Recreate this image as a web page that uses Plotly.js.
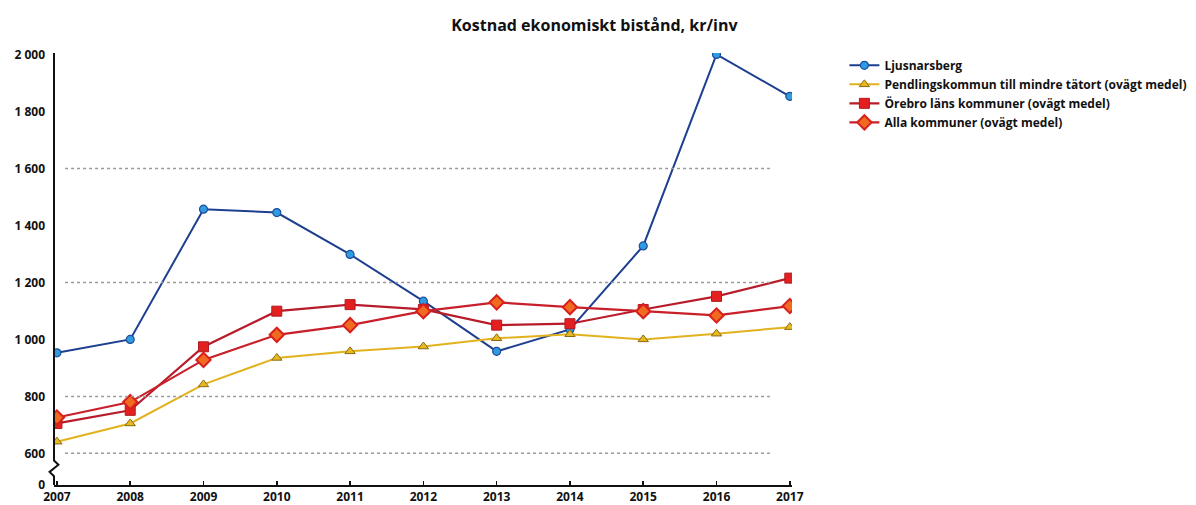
<!DOCTYPE html>
<html>
<head>
<meta charset="utf-8">
<script src="https://cdn.plot.ly/plotly-3.0.1.min.js"></script>
<style>html,body{margin:0;padding:0;background:#fff;}#chart{width:1196px;height:505px;}</style>
</head>
<body>
<div id="chart"></div>
<script>
const years = [2007, 2008, 2009, 2010, 2011, 2012, 2013, 2014, 2015, 2016, 2017];
const ljusnarsberg = [953, 1000, 1457, 1445, 1298, 1134, 958, 1035, 1328, 2000, 1853];
const pendling = [641, 705, 842, 935, 958, 975, 1004, 1018, 1000, 1020, 1043];
const orebro = [705, 751, 974, 1099, 1122, 1105, 1050, 1055, 1105, 1151, 1215];
const alla = [726, 780, 928, 1016, 1050, 1099, 1130, 1113, 1099, 1084, 1117];
const seriesNames = [
  "Ljusnarsberg",
  "Pendlingskommun till mindre tätort (ovägt medel)",
  "Örebro läns kommuner (ovägt medel)",
  "Alla kommuner (ovägt medel)"
];
const yTickVals = [489, 600, 800, 1000, 1200, 1400, 1600, 1800, 2000];
const yTickText = ["0", "600", "800", "1 000", "1 200", "1 400", "1 600", "1 800", "2 000"];
const gridVals = [600, 800, 1200, 1600];

const font = "'Open Sans', 'DejaVu Sans', sans-serif";

const traces = [
  {x: years, y: ljusnarsberg, name: seriesNames[0], mode: 'lines+markers', legendgroup: 'a',
   line: {color: '#1d3f8f', width: 2},
   marker: {symbol: 'circle', size: 8, color: '#2f9be0', line: {color: '#1d4f9c', width: 1.2}}},
  {x: years, y: pendling, name: seriesNames[1], mode: 'lines+markers', legendgroup: 'b',
   line: {color: '#e2b21e', width: 2},
   marker: {symbol: 'triangle-up', size: 9, color: '#e8b820', line: {color: '#8a6a10', width: 1}}},
  {x: years, y: orebro, name: seriesNames[2], mode: 'lines+markers', legendgroup: 'c',
   line: {color: '#b81c2a', width: 2.2},
   marker: {symbol: 'square', size: 10, color: '#e3201f', line: {color: '#b01a22', width: 1}}},
  {x: years, y: alla, name: seriesNames[3], mode: 'lines+markers', legendgroup: 'd',
   line: {color: '#c81f2a', width: 2.2},
   marker: {symbol: 'diamond', size: 11, color: '#f06a20', line: {color: '#d8201e', width: 2}}}
];

const shapes = gridVals.map(v => ({
  type: 'line', xref: 'paper', yref: 'y', x0: 0.015, x1: 0.97, y0: v, y1: v,
  line: {color: '#9a9a9a', width: 1.5, dash: 'dot'}
}));
shapes.push({
  type: 'path', xref: 'paper', yref: 'y',
  path: 'M 0,2005 L 0,575 L 0.006,560 L -0.006,535 L 0,520 L 0,489',
  line: {color: '#111', width: 2}
});

const layout = {
  width: 1196, height: 505,
  margin: {l: 54, r: 404, t: 53, b: 20, autoexpand: false},
  paper_bgcolor: '#fff', plot_bgcolor: '#fff',
  title: {text: 'Kostnad ekonomiskt bistånd, kr/inv', x: 0.497, xanchor: 'center', y: 0.95, yanchor: 'middle',
          font: {family: font, size: 16, color: '#111', weight: 'bold'}},
  xaxis: {range: [2006.96, 2017.03], tickvals: years, ticktext: years.map(String),
          showgrid: false, zeroline: false, showline: true, linecolor: '#111', linewidth: 2,
          ticks: 'inside', ticklen: 4, tickcolor: '#111', tickwidth: 1.5,
          tickfont: {family: font, size: 12, color: '#111', weight: 'bold'}, ticklabelstandoff: 0},
  yaxis: {range: [489, 2005], tickvals: yTickVals, ticktext: yTickText,
          showgrid: false, zeroline: false, showline: false, ticks: '',
          tickfont: {family: font, size: 12, color: '#111', weight: 'bold'}, ticklabelstandoff: 8},
  showlegend: true,
  legend: {x: 1.071, y: 1.005, xanchor: 'left', yanchor: 'top', tracegroupgap: 4.5, traceorder: 'normal',
           font: {family: font, size: 12, color: '#111', weight: 'bold'}, itemwidth: 30,
           bgcolor: 'rgba(0,0,0,0)'},
  shapes: shapes
};

Plotly.newPlot('chart', traces, layout, {displayModeBar: false, staticPlot: true});
</script>
</body>
</html>
